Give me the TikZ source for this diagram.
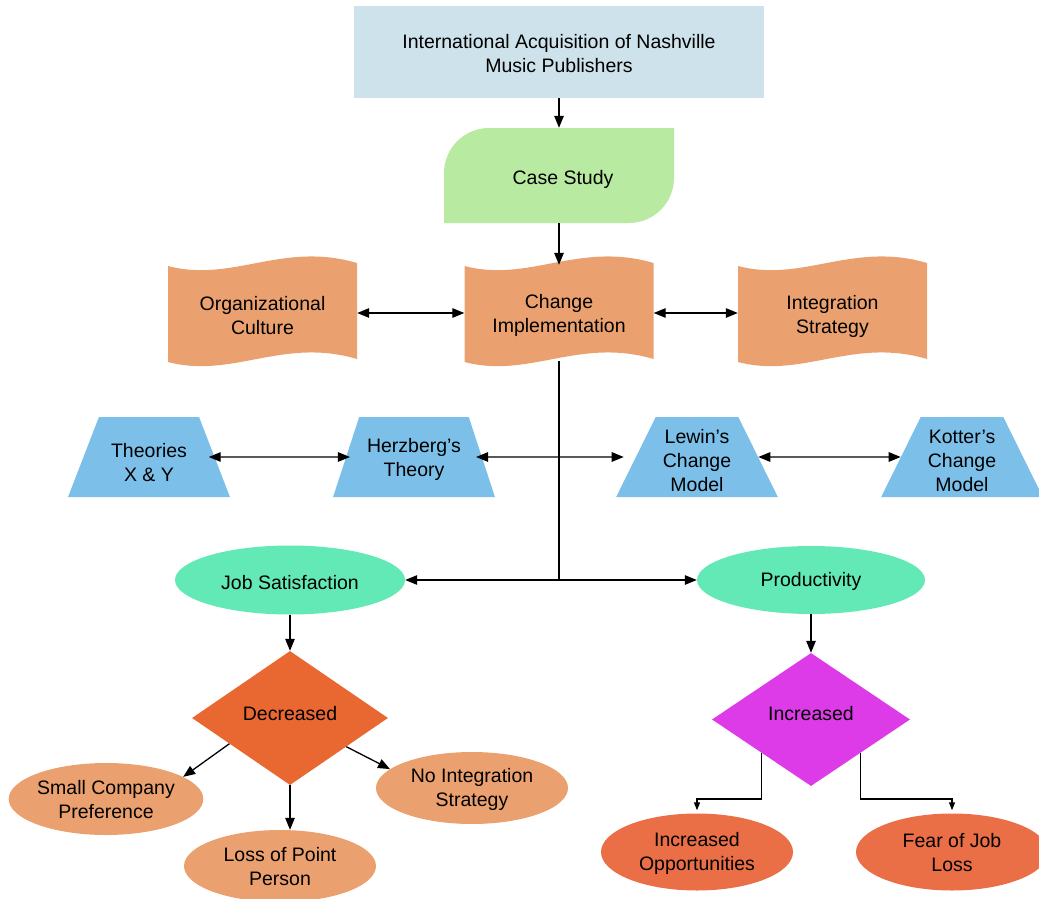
\documentclass[tikz,border=0pt]{standalone}
\usepackage{fontspec}
\setmainfont{Liberation Sans}
\usetikzlibrary{shapes.geometric,arrows.meta,calc}
\definecolor{topc}{HTML}{CDE2EA}
\definecolor{csc}{HTML}{B9EAA1}
\definecolor{docc}{HTML}{EBA16F}
\definecolor{trapc}{HTML}{7CC0EA}
\definecolor{grnc}{HTML}{63E9B6}
\definecolor{decc}{HTML}{E96731}
\definecolor{incc}{HTML}{DD3AE8}
\definecolor{redc}{HTML}{EA6E46}
\newcommand\docshape[1]{\fill[docc, shift={#1}] (-94.5,-47) .. controls (-30,-30) and (20,-72) .. (94.5,-50) -- (94.5,46) .. controls (20,24) and (-30,66) .. (-94.5,49) -- cycle;}
\newcommand\st[1]{\rule{0pt}{#1pt}}
\begin{document}
\begin{tikzpicture}[x=1pt,y=-1pt,
  every node/.style={font=\fontsize{19.5}{24}\selectfont, align=center, inner sep=0pt},
  conn/.style={line width=1.3pt, -{Triangle[length=12pt,width=9.5pt]}},
  dconn/.style={line width=1.3pt, {Triangle[length=12pt,width=9.5pt]}-{Triangle[length=12pt,width=9.5pt]}},
  sconn/.style={line width=1.3pt, -{Triangle[length=8pt,width=6pt]}},
  plain/.style={line width=1.3pt},
  docbox/.style={minimum width=189pt, minimum height=96pt},
  trap/.style={trapezium, trapezium left angle=65, trapezium right angle=65, trapezium stretches=true, minimum width=162pt, minimum height=80pt, fill=trapc},
  ell/.style={ellipse, minimum width=192pt, minimum height=72pt},
]
\useasboundingbox (0,0) rectangle (1039,899);
% backgrounds of custom shapes
\fill[csc] (444,223) -- (444,173) .. controls (444,148.2) and (464.2,128) .. (489,128) -- (674,128) -- (674,178) .. controls (674,202.8) and (653.8,223) .. (629,223) -- cycle;
\docshape{(262.5,313)}
\docshape{(559,313)}
\docshape{(832.5,313)}
% nodes
\node[fill=topc, minimum width=410pt, minimum height=92pt] (top) at (559,52) {\st{18}International Acquisition of Nashville\\Music Publishers};
\node[minimum width=230pt, minimum height=95pt] (cs) at (559,175.5) {\st{22}\hspace{8pt}Case Study};
\node[docbox] (oc) at (262.5,313) {\st{20}Organizational\\Culture};
\node[docbox] (ci) at (559,313) {\st{20}Change\\Implementation};
\node[docbox] (is) at (832.5,313) {\st{22}Integration\\Strategy};
\node[trap] (txy) at (149,457) {\st{26}Theories\\X \& Y};
\node[trap] (her) at (414,457) {\st{20}Herzberg’s\\Theory};
\node[trap] (lew) at (697,457) {\st{22}Lewin’s\\Change\\Model};
\node[trap] (kot) at (962,457) {\st{22}Kotter’s\\Change\\Model};
\node[ell, fill=grnc, minimum width=230pt, minimum height=69pt] (js) at (290,580) {\st{20}Job Satisfaction};
\node[ell, fill=grnc, minimum width=228pt, minimum height=68pt] (pr) at (811,580) {\st{18}Productivity};
\node[diamond, fill=decc, minimum width=196pt, minimum height=134pt] (dec) at (290,718) {\raisebox{10pt}{Decreased}};
\node[diamond, fill=incc, minimum width=198pt, minimum height=133pt] (inc) at (811,719.5) {\raisebox{13pt}{Increased}};
\node[ell, fill=docc] (scp) at (106,799) {\st{16}Small Company\\Preference};
\node[ell, fill=docc] (lpp) at (280,866) {\st{16}Loss of Point\\Person};
\node[ell, fill=docc] (nis) at (472,788) {\st{18}No Integration\\Strategy};
\node[ell, fill=redc, minimum height=77pt] (io) at (697,852) {\st{18}Increased\\Opportunities};
\node[ell, fill=redc, minimum height=77pt] (fj) at (952,852) {\st{16}Fear of Job\\Loss};
% connectors
\draw[conn] (top) -- (cs);
\draw[conn] (cs) -- (ci);
\draw[dconn] (oc) -- (ci);
\draw[dconn] (ci) -- (is);
\draw[dconn, shorten <=-6pt, shorten >=-4pt] (txy) -- (her);
\draw[dconn, shorten <=-6pt, shorten >=12pt] (her) -- (lew);
\draw[dconn] (lew) -- (kot);
\coordinate (jn) at (ci.south |- js.east);
\draw[plain] (ci.south) -- (jn);
\draw[conn] (jn) -- (js);
\draw[conn] (jn) -- (pr);
\draw[conn] (js) -- (dec);
\draw[conn] (pr) -- (inc);
\draw[conn] (dec.203) -- (scp.16);
\draw[conn] (dec.south) -- (dec.south |- lpp.north);
\draw[conn] (dec.-27) -- (nis.167);
\coordinate (lvl) at (0,799);
\draw[sconn, shorten >=3pt] (inc.south west) |- (io.north |- lvl) -- (io.north);
\draw[sconn, shorten >=3pt] (inc.south east) |- (fj.north |- lvl) -- (fj.north);
\end{tikzpicture}
\end{document}
